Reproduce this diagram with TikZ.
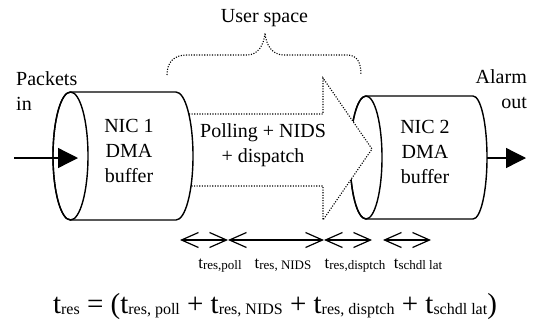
\documentclass[tikz,border=0pt]{standalone}
\usepackage{fontspec}
\setmainfont{Liberation Serif}
\usetikzlibrary{arrows.meta}
\newcommand\lsub[1]{\raisebox{-1pt}{\fontsize{13}{13}\selectfont #1}}
\newcommand\fsub[1]{\raisebox{-1.5pt}{\fontsize{16}{16}\selectfont #1}}
\begin{document}
\begin{tikzpicture}[x=1pt,y=-1pt,
  txt/.style={font=\fontsize{20}{25}\selectfont, inner sep=0pt, align=center},
  lbl/.style={font=\fontsize{17}{18}\selectfont, inner sep=0pt},
  cylline/.style={line width=1.4pt, fill=white},
  dotline/.style={line width=1.1pt, dash pattern=on 1.1pt off 1.5pt},
  timearrow/.style={line width=1.2pt, {Straight Barb[length=17pt,width=15pt,line width=1.2pt]}-{Straight Barb[length=17pt,width=15pt,line width=1.2pt]}},
  bigarrow/.style={line width=1.3pt, -{Triangle[length=20pt,width=20pt]}}
]
\useasboundingbox (0,0) rectangle (534,322);

% labels top
\node[txt, anchor=base] (user) at (264.5,22) {User space};
\node[txt, anchor=base west] (pk) at (16,85) {Packets};
\node[txt, anchor=base west] (pkin) at (16,110) {in};
\node[txt, anchor=base east] (al) at (527,83) {Alarm};
\node[txt, anchor=base east] (alout) at (527,108) {out};

% brace
\draw[dotline] (167,75) .. controls (167,62) and (174,55) .. (187,55) -- (247,55)
  .. controls (258,55) and (264,45) .. (265,33)
  .. controls (266,45) and (272,55) .. (284,55) -- (347,55)
  .. controls (357,55) and (361,62) .. (361,75);

% cylinder 2
\draw[cylline] (366,96) -- (473,96) arc[start angle=90,end angle=-90,x radius=14pt,y radius=61.5pt] -- (366,219)
  arc[start angle=-90,end angle=-270,x radius=16pt,y radius=61.5pt];
\draw[line width=1.4pt] (366,157.5) ellipse [x radius=16pt, y radius=61.5pt];

% dotted big arrow
\draw[dotline, fill=white] (150,114) -- (323,114) -- (323,78) -- (372,149) -- (323,220) -- (323,186) -- (150,186);

% cylinder 1
\draw[cylline] (70.5,92) -- (176,92) arc[start angle=90,end angle=-90,x radius=17pt,y radius=64pt] -- (70.5,220)
  arc[start angle=-90,end angle=-270,x radius=17.5pt,y radius=64pt];
\draw[line width=1.4pt] (70.5,156) ellipse [x radius=17.5pt, y radius=64pt];

% texts in shapes
\node[txt, anchor=base] (nic1) at (129,182) {NIC 1\\DMA\\buffer};
\node[txt, anchor=base] (nic2) at (425,183) {NIC 2\\DMA\\buffer};
\node[txt, anchor=base] (poll) at (263,162) {Polling + NIDS\\+ dispatch};

% in/out arrows
\coordinate (inS) at (14,158);
\coordinate (inE) at (78,158);
\coordinate (outS) at (487,158);
\coordinate (outE) at (526,158);
\draw[bigarrow] (inS) -- (inE);
\draw[bigarrow] (outS) -- (outE);

% time arrows
\coordinate (a0) at (180,240);
\coordinate (a1) at (228,240);
\coordinate (a2) at (324,240);
\coordinate (a3) at (372,240);
\coordinate (a4) at (383,240);
\coordinate (a5) at (431,240);
\draw[timearrow] (a0) -- (a1);
\draw[timearrow] (a1) -- (a2);
\draw[timearrow] (a2) -- (a3);
\draw[timearrow] (a4) -- (a5);

\node[lbl, anchor=base] (l1) at (220,268) {t\lsub{res,poll}};
\node[lbl, anchor=base] (l2) at (283,268) {t\lsub{res, NIDS}};
\node[lbl, anchor=base] (l3) at (355,268) {t\lsub{res,disptch}};
\node[lbl, anchor=base] (l4) at (418,268) {t\lsub{schdl lat}};

\node[font=\fontsize{29}{32}\selectfont, inner sep=0pt, anchor=base] (f) at (275,313)
  {t\fsub{res} = (t\fsub{res, poll} + t\fsub{res, NIDS} + t\fsub{res, disptch} + t\fsub{schdl lat})};
\end{tikzpicture}
\end{document}
